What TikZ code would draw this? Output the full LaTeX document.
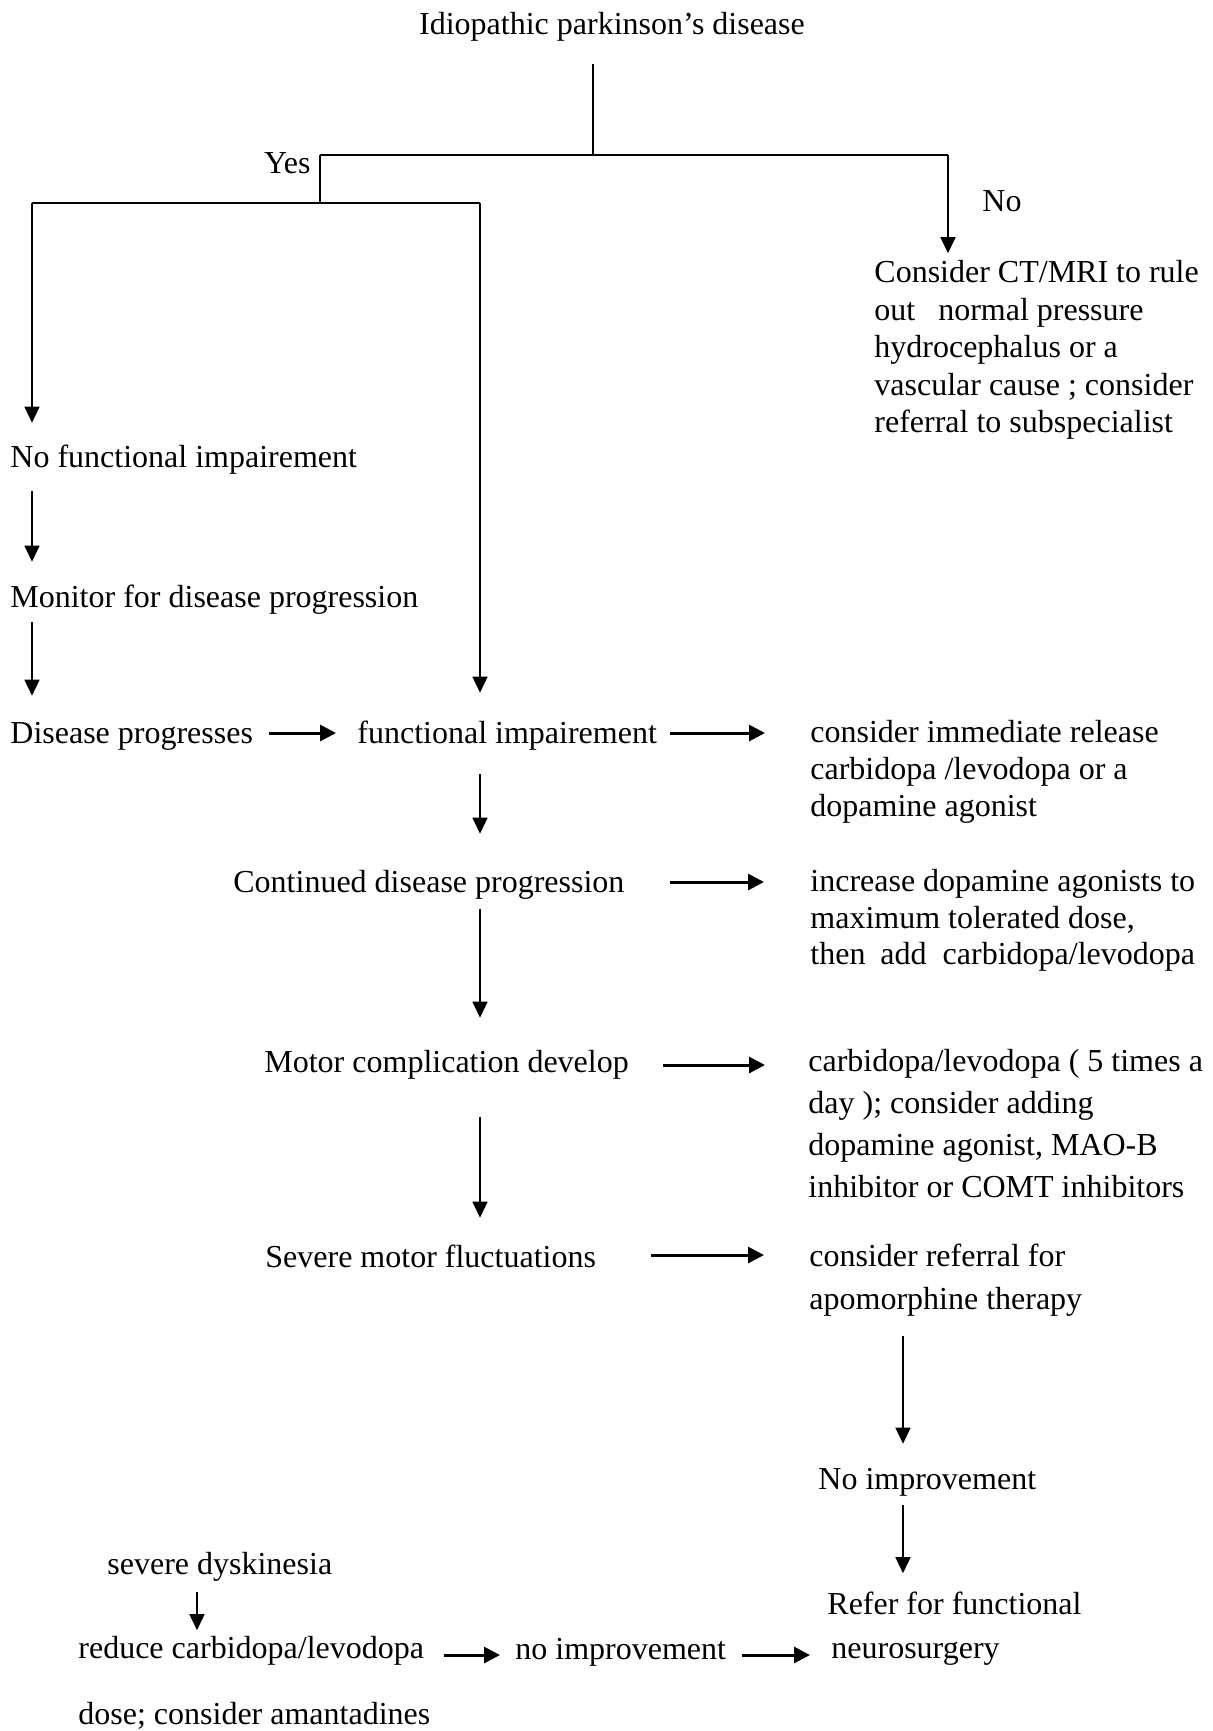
\documentclass[tikz,border=0pt]{standalone}
\usepackage{fontspec}
\setmainfont{Liberation Serif}
\usetikzlibrary{arrows.meta}
\newcommand\fstr{\rule{0pt}{12pt}}
\begin{document}
\begin{tikzpicture}[x=0.5pt,y=-0.5pt,
  txt/.style={inner sep=0pt, anchor=mid west, font=\fontsize{16}{18.5}\selectfont, text height=12pt, text depth=4pt},
  blk/.style={inner sep=0pt, anchor=north west, align=left, font=\fontsize{16}{#1}\selectfont},
  blk/.default=18.5pt,
  tline/.style={line width=0.65pt},
  hline/.style={line width=0.9pt},
  varr/.style={line width=0.75pt, -{Triangle[length=8pt,width=7.5pt]}},
  harr/.style={line width=1.5pt, -{Triangle[length=8pt,width=8pt]}}]
\useasboundingbox (0,0) rectangle (1212,1731);
% text
\node[txt, anchor=mid] (title) at (612,30.3) {Idiopathic parkinson’s disease};
\node[txt, anchor=mid east] (yes) at (311,168.5) {Yes};
\node[txt] (no) at (982,206.5) {No};
\node[blk=18.75pt] (ct) at (874,258.2) {\fstr Consider CT/MRI to rule\\out\hspace{11.5pt}normal pressure\\hydrocephalus or a\\vascular cause ; consider\\referral to subspecialist};
\node[txt] (nfi) at (10,462.5) {No functional impairement};
\node[txt] (mon) at (10,602.5) {Monitor for disease progression};
\node[txt] (dp) at (10,738.5) {Disease progresses};
\node[txt] (fi) at (357,738.5) {functional impairement};
\node[blk=18.5pt] (cir) at (810,718.2) {\fstr consider immediate release\\carbidopa /levodopa or a\\dopamine agonist};
\node[txt] (cdp) at (233,887.5) {Continued disease progression};
\node[blk=18.25pt] (ida) at (810,867.2) {\fstr increase dopamine agonists to\\maximum tolerated dose,\\then\hspace{7.5pt}add\hspace{8pt}carbidopa/levodopa};
\node[txt] (mcd) at (264,1067.5) {Motor complication develop};
\node[blk=21pt] (cl) at (808,1047.2) {\fstr carbidopa/levodopa ( 5 times a\\day ); consider adding\\dopamine agonist, MAO-B\\inhibitor or COMT inhibitors};
\node[txt] (smf) at (265,1262.5) {Severe motor fluctuations};
\node[blk=21.5pt] (crf) at (809,1242.2) {\fstr consider referral for\\apomorphine therapy};
\node[txt] (ni) at (818,1484.5) {No improvement};
\node[txt] (sd) at (107,1569.5) {severe dyskinesia};
\node[blk=22pt] (rff) at (827,1590.2) {\fstr Refer for functional\\\hspace{2pt}neurosurgery};
\node[blk=18.5pt] (red) at (78,1634.2) {\fstr reduce carbidopa/levodopa\\[14.5pt]dose; consider amantadines};
\node[txt] (noimp2) at (515,1654.5) {no improvement};
% junctions
\coordinate (jt) at (593,155);
\coordinate (jl) at (320,155);
\coordinate (jr) at (948,155);
\coordinate (jl2) at (320,203);
\coordinate (ja) at (32,203);
\coordinate (jb) at (480,203);
\coordinate (rx) at (903,1400);
\coordinate (sx) at (197,1600);
% tree
\draw[tline, shorten <=10.2pt] (title.south -| jt) -- (jt);
\draw[hline] (jl) -- (jr);
\draw[tline] (jl) -- (jl2);
\draw[hline] (ja) -- (jb);
\draw[varr, line width=0.9pt, shorten >=2.5pt] (jr) -- (ct.north -| jr);
% left column
\draw[varr, shorten >=10pt] (ja) -- (nfi.north -| ja);
\draw[varr, shorten <=7.7pt, shorten >=10.5pt] (nfi.south -| ja) -- (mon.north -| ja);
\draw[varr, shorten <=3pt, shorten >=11.5pt] (mon.south -| ja) -- (dp.north -| ja);
% middle column
\draw[varr, shorten >=13pt] (jb) -- (fi.north -| jb);
\draw[varr, shorten <=11pt, shorten >=17pt] (fi.south -| jb) -- (cdp.north -| jb);
\draw[varr, shorten <=4pt, shorten >=15pt] (cdp.south -| jb) -- (mcd.north -| jb);
\draw[varr, shorten <=18pt, shorten >=12.5pt] (mcd.south -| jb) -- (smf.north -| jb);
% horizontal arrows
\draw[harr, shorten <=7.75pt, shorten >=10.5pt] ([yshift=2.75pt]dp.mid east) -- ([yshift=2.75pt]fi.mid west);
\draw[harr, shorten <=6.5pt, shorten >=22.5pt] ([yshift=2.75pt]fi.mid east) -- ([yshift=2.75pt]fi.mid east -| cir.west);
\draw[harr, shorten <=22.5pt, shorten >=23pt] ([yshift=2.75pt]cdp.mid east) -- ([yshift=2.75pt]cdp.mid east -| ida.west);
\draw[harr, shorten <=17pt, shorten >=21.5pt] ([yshift=1.25pt]mcd.mid east) -- ([yshift=1.25pt]mcd.mid east -| cl.west);
\draw[harr, shorten <=27.5pt, shorten >=22.5pt] ([yshift=3.75pt]smf.mid east) -- ([yshift=3.75pt]smf.mid east -| crf.west);
% right column
\draw[varr, shorten <=9.5pt, shorten >=10.5pt] (crf.south -| rx) -- (ni.north -| rx);
\draw[varr, shorten <=3.5pt, shorten >=8.5pt] (ni.south -| rx) -- (rff.north -| rx);
% bottom
\draw[varr, shorten <=4.5pt, shorten >=2pt] (sd.south -| sx) -- (red.north -| sx);
\draw[harr, shorten <=6.5pt, shorten >=7.5pt] ([yshift=-0.25pt]red.east |- noimp2.mid west) -- ([yshift=-0.25pt]noimp2.mid west);
\draw[harr, shorten <=8pt, shorten >=8.5pt] ([yshift=-0.25pt]noimp2.mid east) -- ([yshift=-0.25pt]noimp2.mid east -| rff.west);
\end{tikzpicture}
\end{document}
